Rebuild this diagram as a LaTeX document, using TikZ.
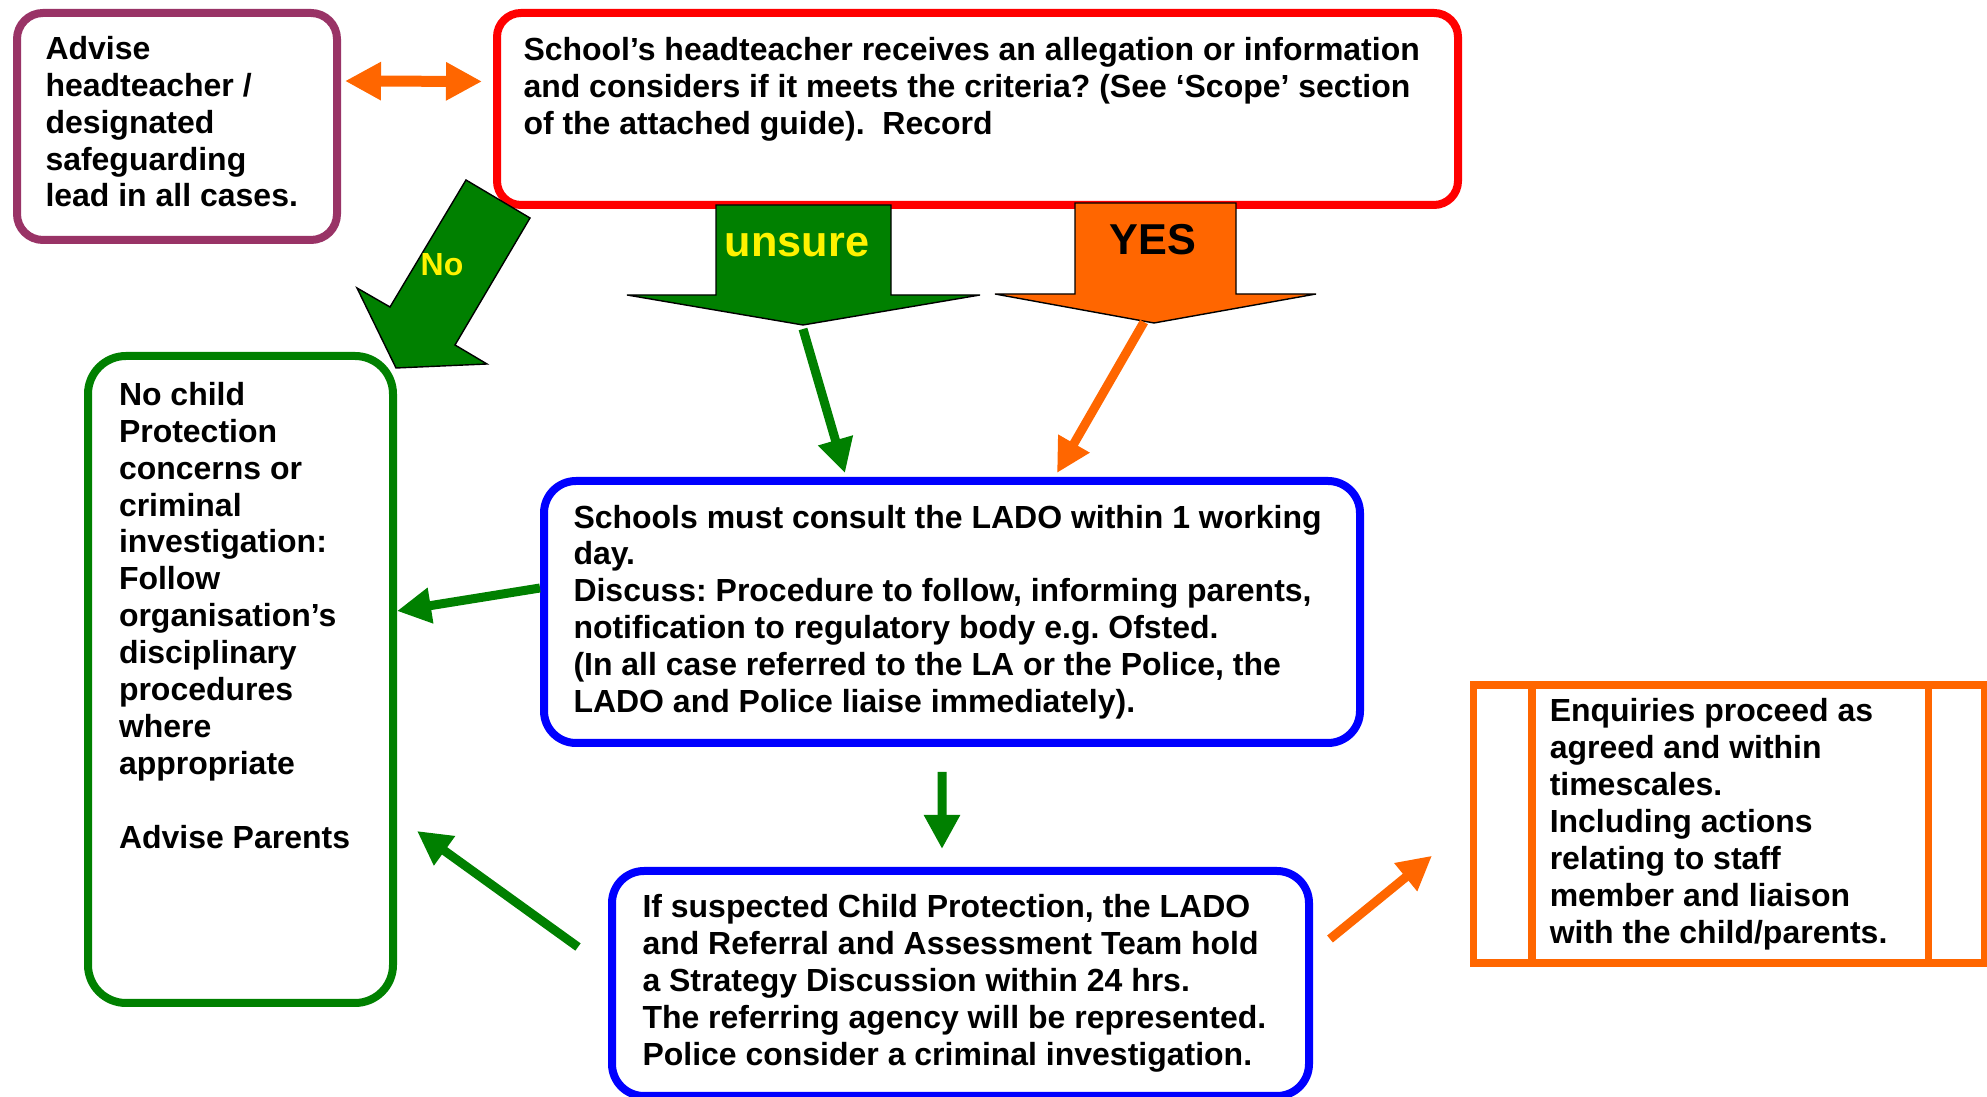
\documentclass[tikz,border=0pt]{standalone}
\usepackage{fontspec}
\setmainfont{Liberation Sans}
\usetikzlibrary{arrows.meta}
\definecolor{plum}{RGB}{153,51,102}
\definecolor{leafgreen}{RGB}{0,128,0}
\definecolor{flame}{RGB}{255,102,0}
\frenchspacing

\begin{document}
\begin{tikzpicture}[x=0.1mm, y=-0.1mm,
    every node/.style={font=\bfseries\fontsize{9.1}{10.5}\selectfont, align=left},
    box/.style={draw, line width=0.8mm, rounded corners=3mm, anchor=north west, inner sep=0pt},
    flow/.style={line width=0.9mm, -{Triangle[width=3.4mm,length=3.4mm]}},
    block/.style={draw=black, line width=0.4pt},
    bigword/.style={font=\bfseries\fontsize{12.3}{14}\selectfont}]
    \useasboundingbox (0,0) rectangle (1987,1097);

    \node[box, draw=plum, rounded corners=2.6mm, minimum width=32mm, minimum height=22.7mm] (advise) at (13,9)
        {\makebox[26.3mm][l]{Advise}\\headteacher /\\designated\\safeguarding\\lead in all cases.\\[-7.7pt]~};
    \node[box, draw=red, rounded corners=2.4mm, minimum width=96.1mm, minimum height=19.2mm] (receive) at (493,9)
        {\makebox[90.8mm][l]{School’s headteacher receives an allegation or information}\\and considers if it meets the criteria? (See ‘Scope’ section\\of the attached guide).~~Record\\[2.8pt]~};
    \node[box, draw=leafgreen, rounded corners=3.8mm, minimum width=30.5mm, minimum height=64.7mm] (noprot) at (84,352)
        {\makebox[24.3mm][l]{No child}\\Protection\\concerns or\\criminal\\investigation:\\Follow\\organisation’s\\disciplinary\\procedures\\where\\appropriate\\~\\Advise Parents\\~\\~\\[5.1pt]~};
    \node[box, draw=blue, rounded corners=3.2mm, minimum width=81.6mm, minimum height=26.2mm] (consult) at (540,477)
        {\makebox[75.7mm][l]{Schools must consult the LADO within 1 working}\\day.\\Discuss: Procedure to follow, informing parents,\\notification to regulatory body e.g. Ofsted.\\(In all case referred to the LA or the Police, the\\LADO and Police liaise immediately).};
    \node[box, draw=blue, rounded corners=3.2mm, minimum width=69.7mm, minimum height=22.5mm] (strategy) at (608,867)
        {\makebox[63.6mm][l]{If suspected Child Protection, the LADO}\\and Referral and Assessment Team hold\\a Strategy Discussion within 24 hrs.\\The referring agency will be represented.\\Police consider a criminal investigation.};
    \node[box, draw=flame, line width=0.75mm, sharp corners, minimum width=51.1mm, minimum height=27.8mm] (enquiry) at (1469.5,681.5)
        {\makebox[35.8mm][l]{Enquiries proceed as}\\agreed and within\\timescales.\\Including actions\\relating to staff\\member and liaison\\with the child/parents.};
    \draw[flame, line width=0.75mm] ([xshift=6.25mm]enquiry.north west) -- ([xshift=6.25mm]enquiry.south west);
    \draw[flame, line width=0.75mm] ([xshift=-5.95mm]enquiry.north east) -- ([xshift=-5.95mm]enquiry.south east);

    % block arrows under the question
    \filldraw[block, fill=leafgreen] (466,180) -- (530,218) -- (455,345) -- (487,364) -- (396,368) -- (357,288) -- (390,307) -- cycle;
    \node[text=yellow] (nolabel) at (442,265) {No};
    \filldraw[block, fill=leafgreen] (716,205) -- (891,205) -- (891,295) -- (980,295) -- (803,325) -- (627,295) -- (716,295) -- cycle;
    \node[bigword, text=yellow] (unsurelabel) at (797,245) {unsure};
    \filldraw[block, fill=flame] (1075,203) -- (1236,203) -- (1236,294) -- (1316,294) -- (1154,323) -- (995,294) -- (1075,294) -- cycle;
    \node[bigword] (yeslabel) at (1153,240) {YES};
    \coordinate (unsuretip) at (803,329);
    \coordinate (yestip) at (1144,322);

    \draw[flame, line width=1.1mm, {Triangle[width=3.6mm,length=3.6mm]}-{Triangle[width=3.6mm,length=3.6mm]}, shorten <=0.4mm, shorten >=1.1mm]
        ([yshift=4.55mm]advise.east) -- ([yshift=2.75mm]receive.west);
    \draw[flow, leafgreen] (unsuretip) -- ([xshift=30.5mm,yshift=0.4mm]consult.north west);
    \draw[flow, flame] (yestip) -- ([xshift=51.7mm,yshift=0.4mm]consult.north west);
    \draw[flow, leafgreen] ([yshift=2.4mm]consult.west) -- ([yshift=6.85mm]noprot.east);
    \draw[flow, leafgreen] ([xshift=-1mm,yshift=-2.5mm]consult.south) -- ([xshift=-1.85mm,yshift=1.8mm]strategy.north);
    \draw[flow, leafgreen] ([xshift=-3mm,yshift=3.65mm]strategy.west) -- ([xshift=2mm,yshift=-15.15mm]noprot.east);
    \draw[flow, flame] ([xshift=1.7mm,yshift=4.45mm]strategy.east) -- ([xshift=-3.75mm,yshift=-3.15mm]enquiry.west);
\end{tikzpicture}
\end{document}
